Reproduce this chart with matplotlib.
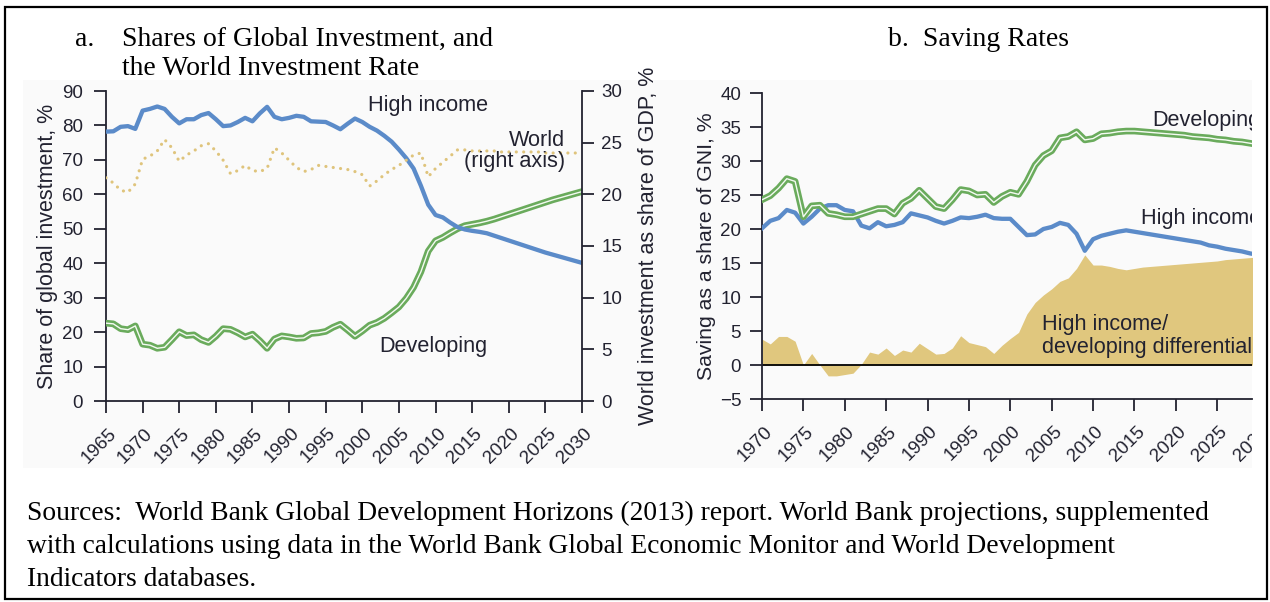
import numpy as np
import matplotlib
matplotlib.use("Agg")
import matplotlib.pyplot as plt
from matplotlib.patches import Rectangle
from matplotlib.transforms import Bbox, TransformedBbox, ScaledTranslation

# Panel a: shares of global investment (%), world investment rate (% of GDP)
years_a = list(range(1965, 2031))
high_income_a = [78.2, 78.3, 79.6, 79.8, 79.0, 84.3, 84.8, 85.5, 84.8, 82.5,
                 80.6, 81.8, 81.8, 83.0, 83.6, 81.8, 79.8, 80.0, 81.0, 82.2,
                 81.2, 83.5, 85.4, 82.5, 81.8, 82.2, 82.8, 82.5, 81.2, 81.1,
                 81.0, 80.0, 78.9, 80.5, 82.0, 81.0, 79.6, 78.5, 77.0, 75.3,
                 73.0, 70.5, 67.5, 62.5, 57.0, 54.0, 53.3, 51.8, 50.5, 49.8,
                 49.4, 49.1, 48.7, 48.0, 47.3, 46.6, 45.9, 45.2, 44.5, 43.8,
                 43.1, 42.5, 41.9, 41.3, 40.7, 40.1]
developing_a = [22.6, 22.4, 21.0, 20.7, 21.8, 16.5, 16.2, 15.3, 15.6, 17.8,
                20.1, 19.0, 19.2, 17.8, 17.0, 18.8, 21.0, 20.8, 19.8, 18.6,
                19.4, 17.5, 15.3, 18.0, 18.9, 18.6, 18.2, 18.3, 19.6, 19.8,
                20.2, 21.4, 22.3, 20.6, 18.8, 20.3, 22.0, 22.8, 24.0, 25.6,
                27.3, 29.8, 33.0, 37.5, 43.5, 46.5, 47.5, 48.8, 50.0, 50.9,
                51.3, 51.7, 52.2, 52.8, 53.5, 54.2, 54.9, 55.6, 56.3, 57.0,
                57.7, 58.4, 59.0, 59.6, 60.2, 60.8]
world_a = [21.6, 21.1, 20.4, 20.2, 21.0, 23.4, 23.7, 24.2, 25.3, 24.5,
           23.2, 23.8, 24.2, 24.7, 24.9, 24.2, 23.3, 22.0, 22.3, 22.8,
           22.3, 22.2, 22.5, 24.5, 24.0, 23.3, 22.6, 22.2, 22.4, 22.8,
           22.7, 22.6, 22.5, 22.4, 22.2, 21.9, 20.8, 21.3, 21.9, 22.4,
           22.8, 23.3, 23.8, 24.0, 21.7, 22.5, 23.1, 23.7, 24.3, 24.3,
           24.2, 24.2, 24.2, 24.2, 24.1, 24.1, 24.1, 24.1, 24.1, 24.1,
           24.0, 24.0, 24.0, 24.0, 24.0, 24.0]

# Panel b: saving rates (% of GNI)
years_b = list(range(1970, 2031))
developing_b = [24.3, 24.9, 26.0, 27.4, 27.0, 21.8, 23.4, 23.5, 22.3, 22.1,
                21.8, 21.8, 22.2, 22.6, 23.0, 23.0, 22.2, 23.8, 24.5, 25.7,
                24.5, 23.3, 23.0, 24.3, 25.8, 25.6, 25.0, 25.1, 23.9, 24.8,
                25.4, 25.1, 27.0, 29.4, 30.8, 31.5, 33.4, 33.6, 34.3, 33.1,
                33.3, 34.0, 34.1, 34.3, 34.4, 34.4, 34.3, 34.2, 34.1, 34.0,
                33.9, 33.8, 33.6, 33.5, 33.4, 33.2, 33.1, 32.9, 32.8, 32.6,
                32.4]
high_income_b = [20.1, 21.2, 21.6, 22.8, 22.4, 20.8, 21.8, 23.0, 23.5, 23.5,
                 22.8, 22.6, 20.5, 20.1, 21.0, 20.4, 20.6, 21.0, 22.3, 22.0,
                 21.7, 21.2, 20.8, 21.2, 21.7, 21.6, 21.8, 22.1, 21.6, 21.5,
                 21.5, 20.3, 19.1, 19.2, 20.0, 20.3, 20.9, 20.6, 19.3, 16.8,
                 18.5, 19.0, 19.3, 19.6, 19.8, 19.6, 19.4, 19.2, 19.0, 18.8,
                 18.6, 18.4, 18.2, 18.0, 17.6, 17.4, 17.1, 16.9, 16.7, 16.4,
                 16.2]
differential_b = [3.8, 3.1, 4.2, 4.2, 3.5, 0.0, 1.7, 0.0, -1.6, -1.6,
                  -1.4, -1.2, 0.1, 1.9, 1.6, 2.5, 1.4, 2.2, 1.9, 3.2,
                  2.4, 1.6, 1.7, 2.5, 4.3, 3.3, 3.0, 2.7, 1.7, 2.9,
                  3.9, 4.8, 7.5, 9.2, 10.3, 11.2, 12.3, 12.8, 14.2, 16.2,
                  14.7, 14.7, 14.5, 14.2, 14.0, 14.2, 14.4, 14.5, 14.6, 14.7,
                  14.8, 14.9, 15.0, 15.1, 15.2, 15.3, 15.5, 15.6, 15.7, 15.8,
                  15.9]

source_lines = [
    "Sources:  World Bank Global Development Horizons (2013) report. World Bank projections, supplemented",
    "with calculations using data in the World Bank Global Economic Monitor and World Development",
    "Indicators databases.",
]

BLUE = "#5b8bc9"
GREEN = "#6aab5c"
TAN = "#e0c77e"
DOT = "#dfc47c"
INK = "#222230"

TICK_LEN = 8.5
XPAD = 13
XSHIFT = 5.5  # points, rotated year labels sit a bit right of their tick

plt.rcParams["font.family"] = ["Liberation Sans", "DejaVu Sans"]
plt.rcParams["axes.edgecolor"] = INK
plt.rcParams["xtick.color"] = INK
plt.rcParams["ytick.color"] = INK
plt.rcParams["axes.linewidth"] = 1.3

W, H = 1270, 602
fig = plt.figure(figsize=(W / 100, H / 100), dpi=100)
fig.patch.set_facecolor("white")

def fx(px):
    return px / W

def fy(py):
    return 1 - py / H

# faint grey backing behind both charts
fig.patches.append(Rectangle((fx(23), fy(468)), fx(1252) - fx(23), fy(80) - fy(468),
                             transform=fig.transFigure, facecolor="#fafafa",
                             edgecolor="none", zorder=-5))
# outer frame
fig.patches.append(Rectangle((fx(5), fy(599)), fx(1267) - fx(5), fy(7) - fy(599),
                             transform=fig.transFigure, facecolor="none",
                             edgecolor="black", linewidth=1.6, zorder=10))

shift = ScaledTranslation(XSHIFT / 72, 0, fig.dpi_scale_trans)

def double_line(ax, x, y):
    ax.plot(x, y, color=GREEN, lw=4.8, solid_joinstyle="round", zorder=3)
    ax.plot(x, y, color="#f4faf2", lw=1.0, solid_joinstyle="round", zorder=4)

def style_ticks(ax, ypad):
    ax.tick_params(axis="both", length=TICK_LEN, width=1.3, labelsize=13.5)
    ax.tick_params(axis="y", pad=ypad)
    ax.tick_params(axis="x", pad=XPAD)

def year_labels(ax, ticks):
    ax.set_xticks(ticks)
    ax.set_xticklabels([str(y) for y in ticks], rotation=45,
                       ha="right", va="center", rotation_mode="anchor")
    for lbl in ax.get_xticklabels():
        lbl.set_transform(lbl.get_transform() + shift)

# ---------------- panel a ----------------
ax1 = fig.add_axes([fx(106), fy(401), fx(582) - fx(106), fy(91) - fy(401)])
ax1.patch.set_alpha(0)
double_line(ax1, years_a, developing_a)
ax1.plot(years_a, high_income_a, color=BLUE, lw=3.1, solid_joinstyle="round", zorder=5)
ax1.set_xlim(1965, 2030)
ax1.set_ylim(0, 90)
ax1.set_yticks(range(0, 91, 10))
ax1.spines["top"].set_visible(False)
ax1.spines["right"].set_visible(False)
style_ticks(ax1, 8)
year_labels(ax1, list(range(1965, 2031, 5)))
ax1.set_ylabel("Share of global investment, %", fontsize=15.5, color=INK, labelpad=3)

ax1r = ax1.twinx()
ax1r.patch.set_alpha(0)
ax1r.plot(years_a, world_a, color=DOT, lw=2.3, linestyle=(0, (0.01, 2.3)),
          dash_capstyle="round", zorder=2)
ax1r.set_ylim(0, 30)
ax1r.set_yticks(range(0, 31, 5))
ax1r.spines["top"].set_visible(False)
ax1r.spines["left"].set_visible(False)
ax1r.spines["bottom"].set_visible(False)
style_ticks(ax1r, 5.5)
ax1r.set_ylabel("World investment as share of GDP, %", fontsize=15.5, color=INK, labelpad=11)

ax1.text(2000.8, 84.3, "High income", fontsize=15.6, color=INK, va="baseline")
ax1r.text(2027.7, 24.15, "World\n(right axis)", fontsize=15.6, color=INK,
          ha="right", va="center", multialignment="right", linespacing=1.0)
ax1.text(2002.3, 14.2, "Developing", fontsize=15.6, color=INK, va="baseline")

# ---------------- panel b ----------------
ax2 = fig.add_axes([fx(762), fy(399), fx(1252) - fx(762), fy(93) - fy(399)])
ax2.patch.set_alpha(0)
ax2.fill_between(years_b, 0, differential_b, color=TAN, lw=0, zorder=1)
ax2.axhline(0, color="black", lw=1.3, zorder=2)
ax2.plot(years_b, high_income_b, color=BLUE, lw=3.1, solid_joinstyle="round", zorder=3)
double_line(ax2, years_b, developing_b)
ax2.set_xlim(1970, 2029.2)
ax2.set_ylim(-5, 40)
ax2.set_yticks(range(-5, 41, 5))
ax2.spines["top"].set_visible(False)
ax2.spines["right"].set_visible(False)
style_ticks(ax2, 6.5)
year_labels(ax2, list(range(1970, 2026, 5)))
ax2.set_ylabel("Saving as a share of GNI, %", fontsize=15.3, color=INK, labelpad=3)

# partly hidden 2030 label, cut at the chart edge as in the source
clip = TransformedBbox(Bbox([[0, 0], [fx(1252), 1]]), fig.transFigure)
lab = ax2.annotate("2030", xy=(2030, 0), xycoords=("data", "axes fraction"),
                   xytext=(XSHIFT, -(TICK_LEN + XPAD)), textcoords="offset points",
                   rotation=45, ha="right", va="center", rotation_mode="anchor",
                   fontsize=13.5, color=INK, annotation_clip=False)
lab.set_clip_box(clip)
lab.set_clip_on(True)

ax2.text(2017.2, 35.2, "Developing", fontsize=15.6, color=INK, va="baseline", clip_on=True)
ax2.text(2015.8, 20.7, "High income", fontsize=15.6, color=INK, va="baseline", clip_on=True)
ax2.text(2003.8, 1.7, "High income/\ndeveloping differential", fontsize=15.6,
         color=INK, va="baseline", clip_on=True, linespacing=1.15)

# ---------------- titles and source note ----------------
serif = ["Liberation Serif", "DejaVu Serif"]
fig.text(fx(75), fy(46), "a.", family=serif, fontsize=20, va="baseline")
fig.text(fx(122), fy(46), "Shares of Global Investment, and", family=serif,
         fontsize=20, va="baseline")
fig.text(fx(122), fy(75), "the World Investment Rate", family=serif,
         fontsize=20, va="baseline")
fig.text(fx(888), fy(46), "b.  Saving Rates", family=serif, fontsize=20, va="baseline")
for i, line in enumerate(source_lines):
    fig.text(fx(27), fy(520 + 33 * i), line, family=serif, fontsize=19.8, va="baseline")

fig.savefig("out.png", dpi=100)
